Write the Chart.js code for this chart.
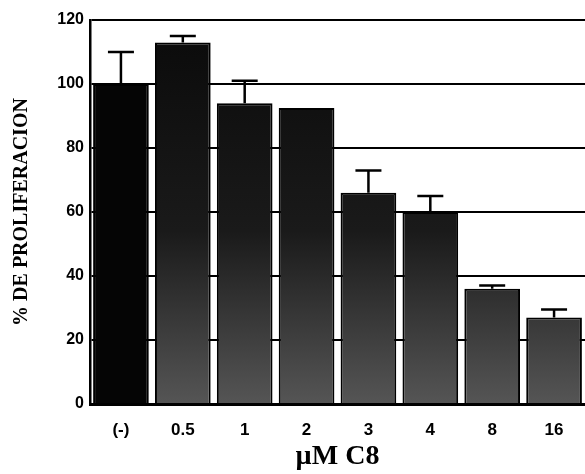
<!DOCTYPE html>
<html>
<head>
<meta charset="utf-8">
<script src="https://cdn.jsdelivr.net/npm/chart.js@4/dist/chart.umd.min.js"></script>
<style>
html,body{margin:0;padding:0;background:#fff;}
#wrap{width:585px;height:474px;position:relative;}
</style>
</head>
<body>
<div id="wrap"><canvas id="c" width="585" height="474"></canvas></div>
<script>
const categories = ['(-)', '0.5', '1', '2', '3', '4', '8', '16'];
const proliferation = [100, 113, 94, 92.5, 66, 60, 36, 27];
const errorUp = [10, 2, 7, 0, 7, 5, 1, 2.5];
const yTicks = [0, 20, 40, 60, 80, 100, 120];

function barFill(ctx) {
  const chart = ctx.chart;
  const area = chart.chartArea;
  if (!area) return '#111';
  if (ctx.dataIndex === 0) return '#050505';
  const g = chart.ctx.createLinearGradient(0, area.top, 0, area.bottom);
  g.addColorStop(0, '#0a0a0a');
  g.addColorStop(0.55, '#1a1a1a');
  g.addColorStop(1, '#555555');
  return g;
}

const errorBars = {
  id: 'errorBars',
  afterDatasetsDraw(chart) {
    const meta = chart.getDatasetMeta(0);
    const y = chart.scales.y;
    const c = chart.ctx;
    c.save();
    c.strokeStyle = '#000';
    c.lineWidth = 2.5;
    meta.data.forEach((bar, i) => {
      const e = errorUp[i];
      if (!e) return;
      const top = y.getPixelForValue(proliferation[i] + e);
      const base = y.getPixelForValue(proliferation[i]);
      c.beginPath();
      c.moveTo(bar.x, base);
      c.lineTo(bar.x, top);
      c.moveTo(bar.x - 13, top);
      c.lineTo(bar.x + 13, top);
      c.stroke();
    });
    c.restore();
  }
};

new Chart(document.getElementById('c'), {
  type: 'bar',
  data: {
    labels: categories,
    datasets: [{
      data: proliferation,
      backgroundColor: barFill,
      borderColor: '#000',
      borderWidth: 2,
      barPercentage: 0.9,
      categoryPercentage: 1.0
    }]
  },
  plugins: [errorBars],
  options: {
    responsive: false,
    animation: false,
    layout: { padding: { top: 20, right: 0, left: 0, bottom: 0 } },
    plugins: { legend: { display: false }, tooltip: { enabled: false } },
    scales: {
      x: {
        grid: { display: false },
        border: { display: true, color: '#000', width: 3 },
        ticks: { color: '#000', padding: 8, font: { family: 'Liberation Sans', weight: 'bold', size: 17 } },
        title: { display: true, text: 'µM C8', color: '#000', padding: { top: 4, bottom: 0 },
                 font: { family: 'Liberation Serif', weight: 'bold', size: 28 } },
        afterFit(s) { s.height = 70; }
      },
      y: {
        min: 0, max: 120,
        afterBuildTicks(s) { s.ticks = yTicks.map(v => ({ value: v })); },
        grid: { color: '#000', lineWidth: 2, drawTicks: false },
        border: { display: true, color: '#000', width: 2.5 },
        ticks: { color: '#000', padding: 6, font: { family: 'Liberation Sans', weight: 'bold', size: 16 } },
        title: { display: true, text: '% DE PROLIFERACION', color: '#000', padding: { top: 10, bottom: 0 },
                 font: { family: 'Liberation Serif', weight: 'bold', size: 20 } },
        afterFit(s) { s.width = 90; }
      }
    }
  }
});
</script>
</body>
</html>
